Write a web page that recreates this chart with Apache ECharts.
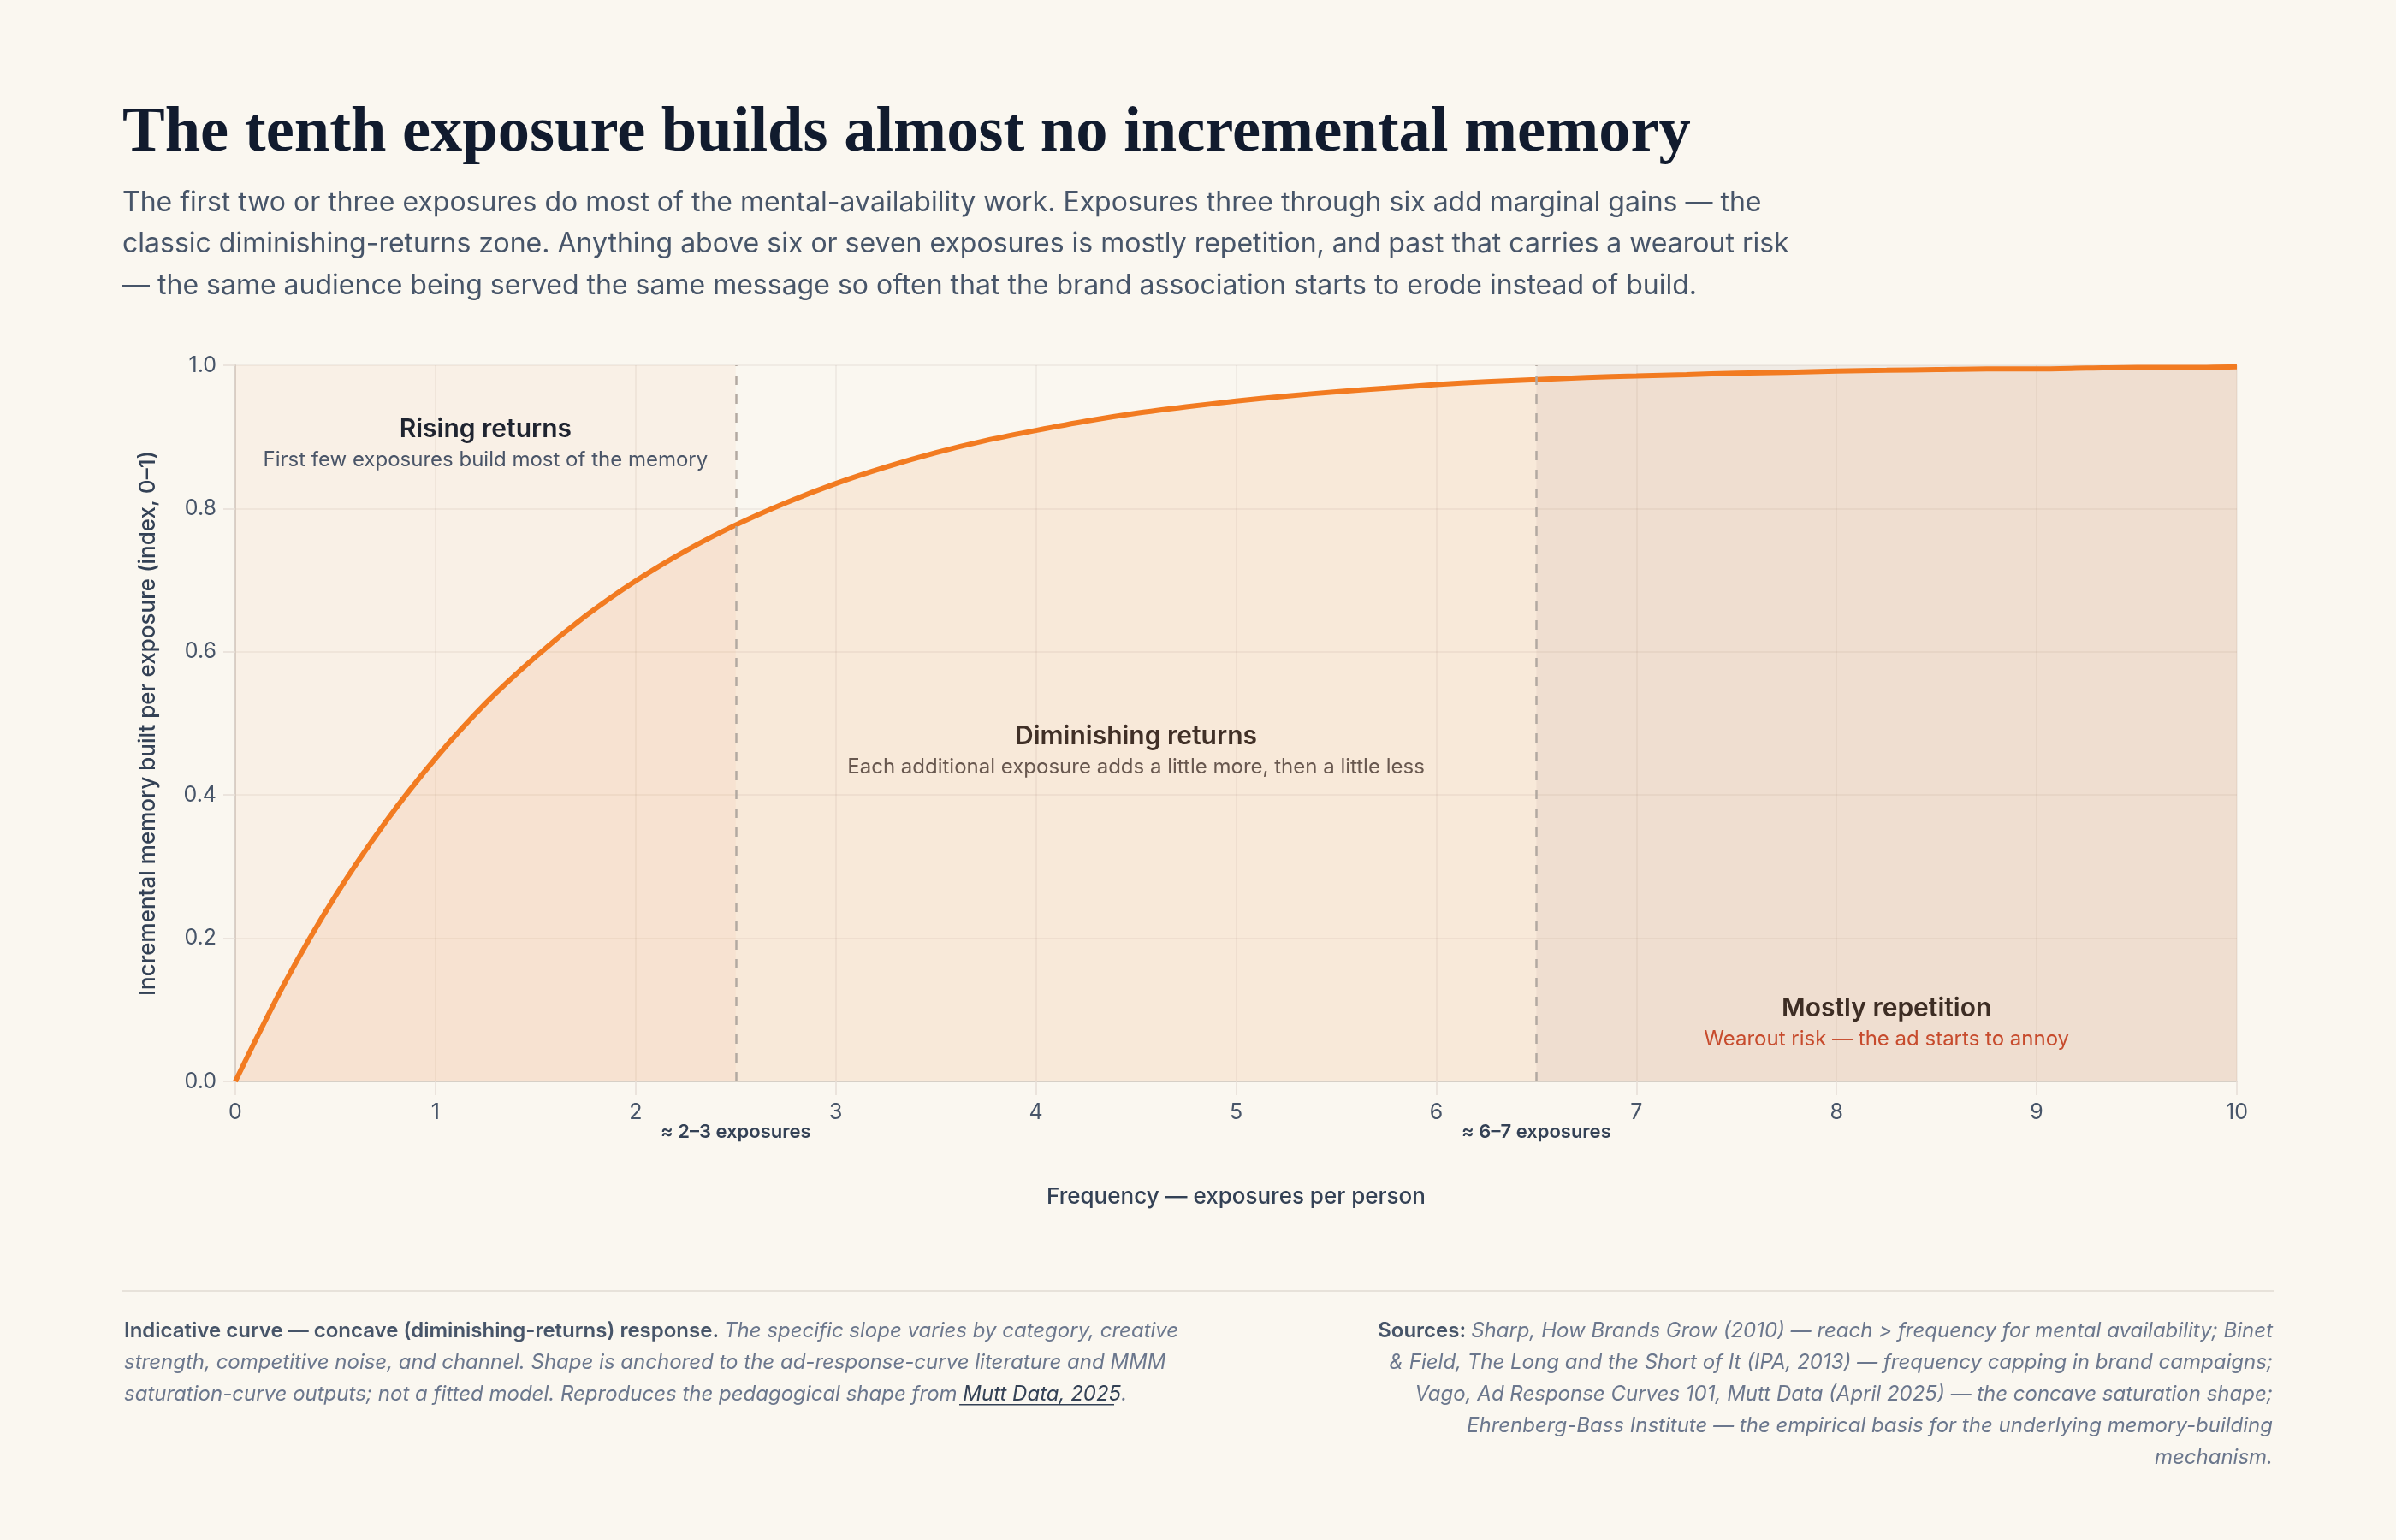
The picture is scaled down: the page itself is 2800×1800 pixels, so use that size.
<!DOCTYPE html>
<html>
<head>
<meta charset="utf-8">
<script src="https://cdn.jsdelivr.net/npm/echarts@6/dist/echarts.min.js"></script>
<style>
  html, body { margin: 0; padding: 0; background: #faf7f0; }
  #chart { width: 2800px; height: 1800px; }
</style>
</head>
<body>
<div id="chart"></div>
<script>
// ---- data ----
const frequency = [0, 0.25, 0.5, 0.75, 1, 1.25, 1.5, 1.75, 2, 2.25, 2.5, 2.75, 3, 3.25, 3.5, 3.75, 4, 4.25, 4.5, 4.75, 5, 5.25, 5.5, 5.75, 6, 6.25, 6.5, 6.75, 7, 7.25, 7.5, 7.75, 8, 8.25, 8.5, 8.75, 9, 9.25, 9.5, 9.75, 10];
const memoryIndex = [0, 0.139, 0.259, 0.362, 0.451, 0.528, 0.593, 0.650, 0.699, 0.741, 0.777, 0.808, 0.835, 0.858, 0.878, 0.895, 0.909, 0.922, 0.933, 0.942, 0.950, 0.957, 0.963, 0.968, 0.973, 0.977, 0.980, 0.983, 0.985, 0.987, 0.989, 0.990, 0.992, 0.993, 0.994, 0.995, 0.995, 0.996, 0.997, 0.997, 0.998];
const zoneBounds = [[0, 2.5], [2.5, 6.5], [6.5, 10]];
const zoneTitles = ['Rising returns', 'Diminishing returns', 'Mostly repetition'];
const zoneNotes = ['First few exposures build most of the memory', 'Each additional exposure adds a little more, then a little less', 'Wearout risk \u2014 the ad starts to annoy'];
const thresholds = [2.5, 6.5];
const thresholdLabels = ['\u2248 2\u20133 exposures', '\u2248 6\u20137 exposures'];
const xTicks = [0, 10, 1];
const yTicks = [0, 1, 0.2];

const FONT = 'Inter, "Noto Sans", sans-serif';
const chart = echarts.init(document.getElementById('chart'), null, { renderer: 'canvas' });

const points = frequency.map((f, i) => [f, memoryIndex[i]]);

const zoneStyles = [
  { color: 'rgba(240,160,100,0.07)', pos: 'insideTop', dist: 55, offset: [0, 0], subColor: '#4a5568', titleColor: '#1f2430' },
  { color: 'rgba(0,0,0,0)', pos: 'inside', dist: 5, offset: [0, 32], subColor: '#575353', titleColor: '#2a2626' },
  { color: 'rgba(160,140,140,0.10)', pos: 'insideBottom', dist: 32, offset: [0, 0], subColor: '#c2452d', titleColor: '#262222' }
];

const markAreaData = zoneBounds.map((b, i) => [
  {
    xAxis: b[0], yAxis: 0,
    itemStyle: { color: zoneStyles[i].color },
    label: {
      show: true,
      position: zoneStyles[i].pos,
      distance: zoneStyles[i].dist,
      offset: zoneStyles[i].offset,
      formatter: '{t|' + zoneTitles[i] + '}\n{s' + i + '|' + zoneNotes[i] + '}',
      rich: {
        t: { fontFamily: FONT, fontSize: 30, fontWeight: 600, color: zoneStyles[i].titleColor, lineHeight: 39, align: 'center' },
        ['s' + i]: { fontFamily: FONT, fontSize: 24, color: zoneStyles[i].subColor, lineHeight: 34, align: 'center' }
      }
    }
  },
  { xAxis: b[1], yAxis: 1 }
]);

const option = {
  backgroundColor: '#faf7f0',
  animation: false,
  grid: { left: 275, right: 186, top: 427, bottom: 536, containLabel: false },
  xAxis: {
    type: 'value', min: xTicks[0], max: xTicks[1], interval: xTicks[2],
    name: 'Frequency \u2014 exposures per person',
    nameLocation: 'middle', nameGap: 122,
    nameTextStyle: { fontFamily: FONT, fontSize: 26, fontWeight: 500, color: '#334155' },
    axisLine: { show: true, lineStyle: { color: '#d6cfc6', width: 2 } },
    axisTick: { show: true, length: 16, lineStyle: { color: '#e6ded6', width: 1.5 } },
    axisLabel: { fontFamily: FONT, fontSize: 25, color: '#475569', margin: 24 },
    splitLine: { show: true, lineStyle: { color: 'rgba(120,100,80,0.10)', width: 1.5 } }
  },
  yAxis: {
    type: 'value', min: yTicks[0], max: yTicks[1], interval: yTicks[2],
    name: 'Incremental memory built per exposure (index, 0\u20131)',
    nameLocation: 'middle', nameGap: 89,
    nameTextStyle: { fontFamily: FONT, fontSize: 26, fontWeight: 500, color: '#334155' },
    axisLine: { show: true, lineStyle: { color: '#d9d1ca', width: 2 } },
    axisTick: { show: true, length: 14, lineStyle: { color: '#e6ded6', width: 1.5 } },
    axisLabel: { fontFamily: FONT, fontSize: 25, color: '#475569', margin: 22, formatter: v => v.toFixed(1) },
    splitLine: { show: true, lineStyle: { color: 'rgba(120,100,80,0.10)', width: 1.5 } }
  },
  series: [
    {
      type: 'line', data: [], z: 1, silent: true,
      markArea: { silent: true, data: markAreaData },
    },
    {
      type: 'line', data: points, z: 3, smooth: 0.3, showSymbol: false, clip: false,
      lineStyle: { color: '#f27b21', width: 6 },
      areaStyle: { color: 'rgba(240,128,50,0.17)' },
      markLine: {
        silent: true, symbol: ['none', 'none'],
        lineStyle: { color: '#b3a9a1', width: 2.5, type: [11, 11] },
        label: { show: true, position: 'start', distance: 48, fontFamily: FONT, fontSize: 22, fontWeight: 600, color: '#334155' },
        data: thresholds.map((t, i) => [
          { coord: [t, 0], label: { formatter: thresholdLabels[i] } },
          { coord: [t, 1] }
        ])
      }
    }
  ],
  graphic: [
    { type: 'text', left: 143, top: 119, style: { text: 'The tenth exposure builds almost no incremental memory', fontFamily: '"Liberation Serif", serif', fontSize: 74.5, fontWeight: 700, fill: '#111b2e' } },
    { type: 'text', left: 143, top: 213, style: { text: 'The first two or three exposures do most of the mental-availability work. Exposures three through six add marginal gains \u2014 the\nclassic diminishing-returns zone. Anything above six or seven exposures is mostly repetition, and past that carries a wearout risk\n\u2014 the same audience being served the same message so often that the brand association starts to erode instead of build.', fontFamily: FONT, fontSize: 32, lineHeight: 48.5, fill: '#475569' } },
    { type: 'rect', shape: { x: 143, y: 1508, width: 2514, height: 2 }, style: { fill: '#e7e2da' } },
    { type: 'text', x: 145, y: 1537, style: {
      text: '{b|Indicative curve \u2014 concave (diminishing-returns) response. }{i|The specific slope varies by category, creative}\n{i|strength, competitive noise, and channel. Shape is anchored to the ad-response-curve literature and MMM}\n{i|saturation-curve outputs; not a fitted model. Reproduces the pedagogical shape from }{l|Mutt Data, 2025}{i|.}',
      rich: {
        b: { fontFamily: FONT, fontSize: 24, fontWeight: 600, fill: '#475569', lineHeight: 37 },
        i: { fontFamily: FONT, fontSize: 24, fontStyle: 'italic', fill: '#6b778d', lineHeight: 37 },
        l: { fontFamily: FONT, fontSize: 24, fontStyle: 'italic', fill: '#334155', lineHeight: 37 }
      }
    } },
    { type: 'rect', shape: { x: 1121, y: 1641, width: 181, height: 1.6 }, style: { fill: '#334155' } },
    { type: 'text', x: 2656, y: 1537, style: {
      align: 'right',
      text: '{b|Sources: }{i|Sharp, How Brands Grow (2010) \u2014 reach > frequency for mental availability; Binet}\n{i|& Field, The Long and the Short of It (IPA, 2013) \u2014 frequency capping in brand campaigns;}\n{i|Vago, Ad Response Curves 101, Mutt Data (April 2025) \u2014 the concave saturation shape;}\n{i|Ehrenberg-Bass Institute \u2014 the empirical basis for the underlying memory-building}\n{i|mechanism.}',
      rich: {
        b: { fontFamily: FONT, fontSize: 24, fontWeight: 600, fill: '#475569', lineHeight: 37, align: 'right' },
        i: { fontFamily: FONT, fontSize: 24, fontStyle: 'italic', fill: '#6b778d', lineHeight: 37, align: 'right' }
      }
    } }
  ]
};

chart.setOption(option);
</script>
</body>
</html>
